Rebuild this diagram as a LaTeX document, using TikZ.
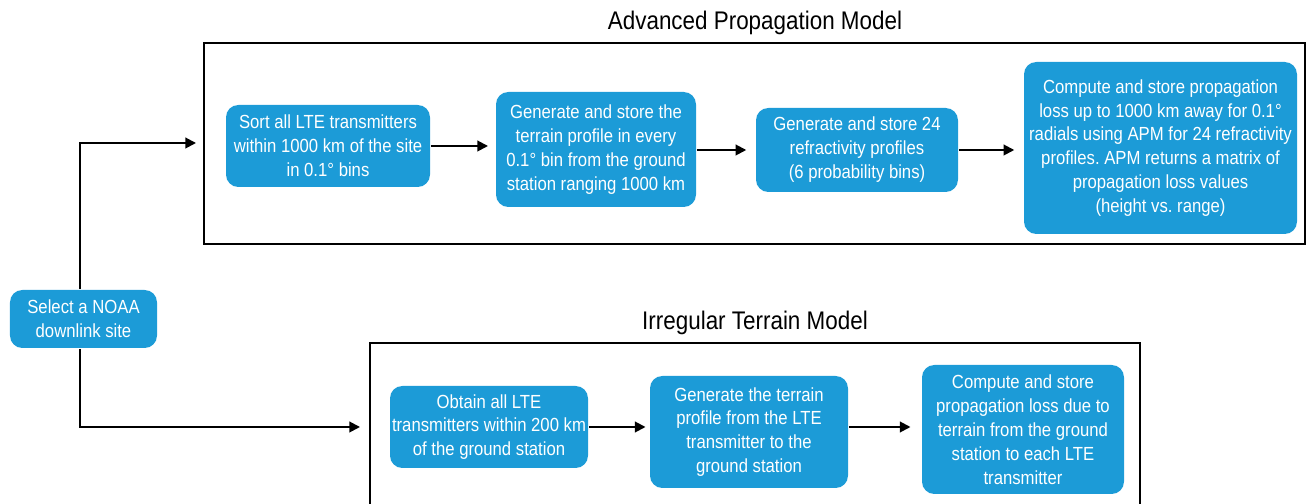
\documentclass[tikz,border=0pt]{standalone}
\usepackage{fontspec}
\setmainfont{Liberation Sans}[FakeStretch=0.88]
\usepackage{tikz}
\usetikzlibrary{arrows.meta}
\definecolor{boxblue}{HTML}{1C9BD7}
\frenchspacing

\begin{document}
\begin{tikzpicture}[>={Triangle[length=6pt,width=6pt]},line width=1.1pt,
  stepbox/.style={fill=boxblue,draw=none,rounded corners=7pt,text=white,align=center,inner sep=1pt,font=\fontsize{10.8}{13.6}\selectfont},
  frametitle/.style={font=\fontsize{14.5}{16}\selectfont}]
 \useasboundingbox (0,0) rectangle (26.14,10.08);
 % APM frame
 \draw (4.08,5.2) rectangle (26.1,9.22);
 \node[frametitle] (apmtitle) at (15.1,9.62) {Advanced Propagation Model};
 % ITM frame (runs off the bottom)
 \draw (7.4,0) |- (22.8,3.22) -- (22.8,0);
 \node[frametitle] (itmtitle) at (15.1,3.62) {Irregular Terrain Model};
 % start
 \node[stepbox,minimum width=2.94cm,minimum height=1.16cm] (sel) at (1.67,3.7) {Select a NOAA\\downlink site};
 % APM steps
 \node[stepbox,minimum width=4.08cm,minimum height=1.64cm] (sort) at (6.56,7.16) {Sort all LTE transmitters\\within 1000 km of the site\\in 0.1° bins};
 \node[stepbox,minimum width=4.0cm,minimum height=2.3cm] (terrain) at (11.92,7.09) {Generate and store the\\terrain profile in every\\0.1° bin from the ground\\station ranging 1000 km};
 \node[stepbox,minimum width=4.04cm,minimum height=1.68cm] (refr) at (17.14,7.08) {Generate and store 24\\refractivity profiles\\(6 probability bins)};
 \node[stepbox,minimum width=5.46cm,minimum height=3.44cm] (apmloss) at (23.21,7.12) {Compute and store propagation\\loss up to 1000 km away for 0.1°\\radials using APM for 24 refractivity\\profiles. APM returns a matrix of\\propagation loss values\\(height vs. range)};
 % ITM steps
 \node[stepbox,minimum width=3.96cm,minimum height=1.64cm] (obtain) at (9.78,1.54) {Obtain all LTE\\transmitters within 200 km\\of the ground station};
 \node[stepbox,minimum width=3.96cm,minimum height=2.24cm] (path) at (14.98,1.44) {Generate the terrain\\profile from the LTE\\transmitter to the\\ground station};
 \node[stepbox,minimum width=4.04cm,minimum height=2.58cm] (itmloss) at (20.46,1.49) {Compute and store\\propagation loss due to\\terrain from the ground\\station to each LTE\\transmitter};
 % branches
 \coordinate (apmin) at (3.92,7.22);
 \coordinate (itmin) at (7.2,1.54);
 \draw[->] (sel.north -| 1.6,0) |- (apmin);
 \draw[->] (sel.south -| 1.6,0) |- (itmin);
 % flow
 \draw[->,shorten >=4pt] (sort.east) -- (terrain.west |- sort.east);
 \draw[->,shorten >=5pt] (terrain.east |- refr.east) -- (refr.west);
 \draw[->,shorten >=5pt] (refr.east) -- (apmloss.west |- refr.east);
 \draw[->,shorten >=2pt] (obtain.east) -- (path.west |- obtain.east);
 \draw[->,shorten >=6pt] (path.east |- obtain.east) -- (itmloss.west |- obtain.east);
\end{tikzpicture}
\end{document}
